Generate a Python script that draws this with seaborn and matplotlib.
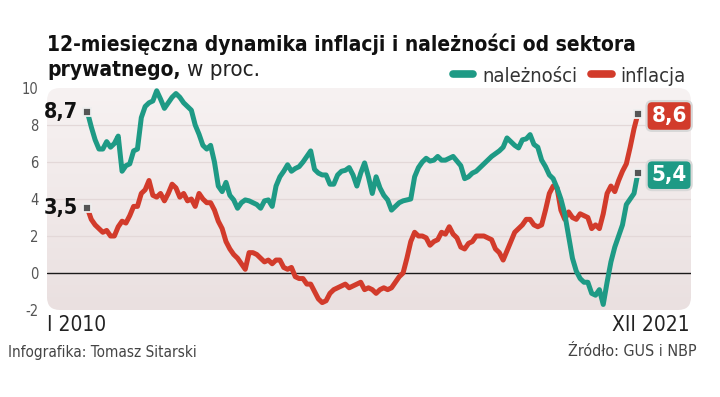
import numpy as np
import pandas as pd
import matplotlib
matplotlib.use("Agg")
import matplotlib.pyplot as plt
import seaborn as sns
from matplotlib.patches import FancyBboxPatch
from matplotlib.lines import Line2D
from matplotlib.colors import LinearSegmentedColormap

sns.set_theme(style="white")
plt.rcParams['font.family'] = ['DejaVu Sans']
plt.rcParams['font.stretch'] = 'condensed'

# miesiace I 2010 - XII 2021
months = np.arange(144)

# inflacja CPI r/r, %
inflacja = [
    3.5, 2.9, 2.6, 2.4, 2.2, 2.3, 2.0, 2.0, 2.5, 2.8, 2.7, 3.1,
    3.6, 3.6, 4.3, 4.5, 5.0, 4.2, 4.1, 4.3, 3.9, 4.3, 4.8, 4.6,
    4.1, 4.3, 3.9, 4.0, 3.6, 4.3, 4.0, 3.8, 3.8, 3.4, 2.8, 2.4,
    1.7, 1.3, 1.0, 0.8, 0.5, 0.2, 1.1, 1.1, 1.0, 0.8, 0.6, 0.7,
    0.5, 0.7, 0.7, 0.3, 0.2, 0.3, -0.2, -0.3, -0.3, -0.6, -0.6, -1.0,
    -1.4, -1.6, -1.5, -1.1, -0.9, -0.8, -0.7, -0.6, -0.8, -0.7, -0.6, -0.5,
    -0.9, -0.8, -0.9, -1.1, -0.9, -0.8, -0.9, -0.8, -0.5, -0.2, 0.0, 0.8,
    1.7, 2.2, 2.0, 2.0, 1.9, 1.5, 1.7, 1.8, 2.2, 2.1, 2.5, 2.1,
    1.9, 1.4, 1.3, 1.6, 1.7, 2.0, 2.0, 2.0, 1.9, 1.8, 1.3, 1.1,
    0.7, 1.2, 1.7, 2.2, 2.4, 2.6, 2.9, 2.9, 2.6, 2.5, 2.6, 3.4,
    4.3, 4.7, 4.6, 3.4, 2.9, 3.3, 3.0, 2.9, 3.2, 3.1, 3.0, 2.4,
    2.6, 2.4, 3.2, 4.3, 4.7, 4.4, 5.0, 5.5, 5.9, 6.8, 7.8, 8.6,
]

# naleznosci od sektora prywatnego r/r, %
naleznosci = [
    8.7, 7.9, 7.2, 6.7, 6.7, 7.1, 6.8, 7.0, 7.4, 5.5, 5.8, 5.9,
    6.6, 6.7, 8.4, 9.0, 9.2, 9.3, 9.85, 9.4, 8.9, 9.2, 9.5, 9.7,
    9.5, 9.2, 9.0, 8.8, 8.0, 7.5, 6.9, 6.7, 6.9, 6.0, 4.7, 4.4,
    4.9, 4.2, 3.95, 3.5, 3.8, 3.95, 3.9, 3.8, 3.7, 3.5, 3.9, 3.95,
    3.6, 4.7, 5.2, 5.5, 5.85, 5.5, 5.65, 5.75, 6.0, 6.3, 6.6, 5.6,
    5.4, 5.3, 5.3, 4.8, 4.8, 5.3, 5.5, 5.55, 5.7, 5.3, 4.7, 5.4,
    5.95, 5.2, 4.3, 5.2, 4.6, 4.2, 3.95, 3.4, 3.6, 3.8, 3.9, 3.95,
    4.0, 5.2, 5.7, 6.0, 6.2, 6.05, 6.1, 6.3, 6.1, 6.1, 6.2, 6.3,
    6.05, 5.8, 5.1, 5.2, 5.4, 5.5, 5.7, 5.9, 6.1, 6.3, 6.45, 6.6,
    6.8, 7.3, 7.1, 6.9, 6.76, 7.2, 7.25, 7.48, 6.95, 6.8, 6.1, 5.75,
    5.3, 5.1, 4.6, 4.0, 3.2, 2.0, 0.8, 0.1, -0.3, -0.5, -0.5, -1.1,
    -1.2, -0.9, -1.7, -0.5, 0.6, 1.4, 2.0, 2.6, 3.7, 4.0, 4.3, 5.4,
]

yticks = [-2, 0, 2, 4, 6, 8, 10]
teal = '#1e9a85'
red = '#d23b2b'

df = pd.DataFrame({'m': months, 'inflacja': inflacja, 'naleznosci': naleznosci})

W, H = 720, 397
fig = plt.figure(figsize=(W / 100, H / 100), dpi=100)
fig.patch.set_facecolor('white')


def fx(px):
    return px / W


def fy(py):
    return 1 - py / H


ax = fig.add_axes([fx(47), fy(310), fx(691) - fx(47), fy(88) - fy(310)])
ax.patch.set_visible(False)

# tlo z gradientem i zaokraglonymi rogami
grad = np.linspace(0, 1, 256).reshape(-1, 1)
cmap = LinearSegmentedColormap.from_list('bg', ['#f7f2f2', '#eae0e0'])
im = ax.imshow(grad, extent=[0, 1, 0, 1], transform=ax.transAxes, cmap=cmap,
               aspect='auto', zorder=0)
box = FancyBboxPatch((0, 0), 1, 1, boxstyle='round,pad=0,rounding_size=0.02',
                     mutation_aspect=644 / 222, transform=ax.transAxes,
                     facecolor='none', edgecolor='none')
ax.add_patch(box)
im.set_clip_path(box)

for v in [2, 4, 6, 8]:
    ax.axhline(v, color='#e3d8d8', lw=0.9, zorder=1)
ax.axhline(0, color='#1a1a1a', lw=1.0, zorder=2)

sns.lineplot(data=df, x='m', y='inflacja', color=red, linewidth=3.6, ax=ax,
             zorder=3, solid_joinstyle='round', solid_capstyle='round')
sns.lineplot(data=df, x='m', y='naleznosci', color=teal, linewidth=3.6, ax=ax,
             zorder=4, solid_joinstyle='round', solid_capstyle='round')

# znaczniki na koncach
for ser in (naleznosci, inflacja):
    ax.plot([months[0], months[-1]], [ser[0], ser[-1]], ls='none', marker='s',
            ms=5.5, mfc='#555555', mec='#eeeeee', mew=1.3, zorder=6)

ax.set_xlim(-10.5, 156.8)
ax.set_ylim(-2, 10)
ax.set_xlabel('')
ax.set_ylabel('')
ax.set_xticks([])
ax.set_yticks(yticks)
ax.set_yticklabels([str(t) for t in yticks])
ax.tick_params(axis='y', length=0, pad=6, labelsize=10.5, labelcolor='#555555')
for s in ax.spines.values():
    s.set_visible(False)


def fmt(v):
    return f"{v:.1f}".replace('.', ',')


# wartosci poczatkowe
for ser in (naleznosci, inflacja):
    ax.annotate(fmt(ser[0]), xy=(months[0], ser[0]), xytext=(-6.5, 0),
                textcoords='offset points', ha='right', va='center',
                fontsize=15.5, fontweight='bold', color='#111111')

# wartosci koncowe w ramkach
for ser, col in ((inflacja, red), (naleznosci, teal)):
    ax.annotate(fmt(ser[-1]), xy=(months[-1], ser[-1]), xytext=(22.5, -1.5),
                textcoords='offset points', ha='center', va='center',
                fontsize=16, fontweight='bold', color='white', zorder=7,
                bbox=dict(boxstyle='round,pad=0.22,rounding_size=0.25',
                          fc=col, ec='#d8d8d8', lw=1.6))

# tytul
fig.text(fx(47), fy(51), "12-miesięczna dynamika inflacji i należności od sektora",
         fontsize=15, fontweight='bold', color='#111111', va='baseline')
t2 = fig.text(fx(47), fy(76), "prywatnego,", fontsize=15, fontweight='bold',
              color='#111111', va='baseline')
fig.canvas.draw()
bb = t2.get_window_extent()
fig.text(bb.x1 / W + fx(6), fy(76), "w proc.", fontsize=16, color='#222222',
         va='baseline')

# legenda
handles = [Line2D([], [], color=teal, lw=5.5, solid_capstyle='round'),
           Line2D([], [], color=red, lw=5.5, solid_capstyle='round')]
fig.legend(handles, ['należności', 'inflacja'], loc='center right',
           bbox_to_anchor=(fx(704), fy(76)), ncol=2, frameon=False,
           fontsize=14.5, handlelength=1.0, handletextpad=0.45,
           columnspacing=0.7, labelcolor='#333333')

# os X i stopka
fig.text(fx(47), fy(325), "I 2010", fontsize=15, color='#222222', va='center')
fig.text(fx(690), fy(325), "XII 2021", fontsize=15, color='#222222', va='center',
         ha='right')
fig.text(fx(8), fy(352), "Infografika: Tomasz Sitarski", fontsize=11,
         color='#444444', va='center')
fig.text(fx(697), fy(352), "Źródło: GUS i NBP", fontsize=11.5, color='#444444',
         va='center', ha='right')

fig.savefig('out.png', dpi=100)
